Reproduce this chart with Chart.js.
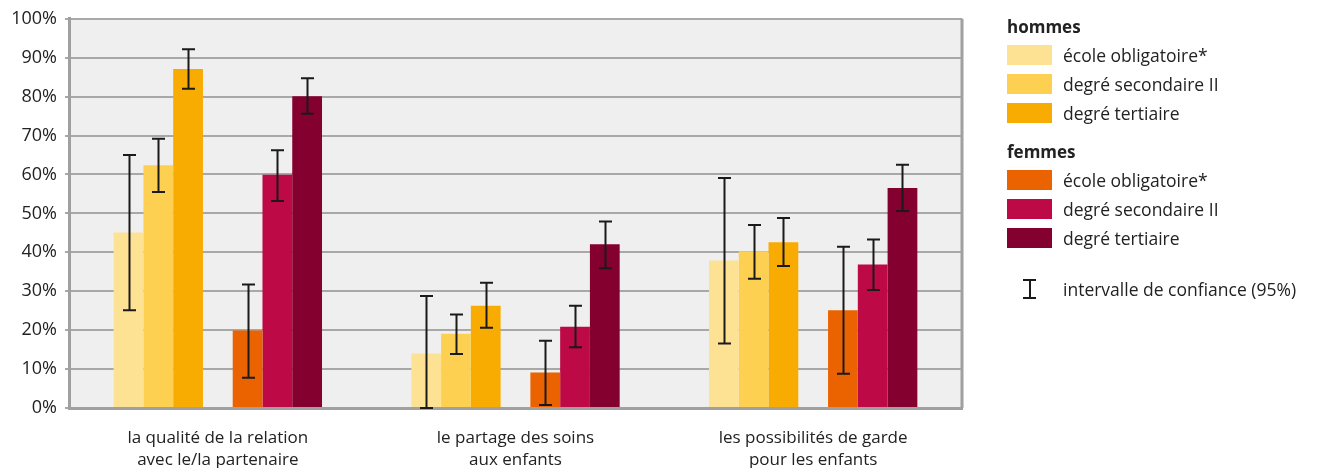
<!DOCTYPE html>
<html lang="fr">
<head>
<meta charset="utf-8">
<script src="https://cdn.jsdelivr.net/npm/chart.js@4/dist/chart.umd.min.js"></script>
<style>
  html, body { margin: 0; padding: 0; background: #fff; }
  body { font-family: 'Open Sans', sans-serif; color: #222; }
  #wrap { position: relative; width: 1318px; height: 468px; }
  #legend { position: absolute; left: 1007px; top: 14px; font-size: 17.5px; }
  #legend .head { font-weight: bold; height: 26px; line-height: 26px; font-size: 17px; }
  #legend .row { display: flex; align-items: center; height: 29px; }
  #legend .sw { width: 45px; height: 20px; margin-right: 11px; }
  #legend .gap { height: 10px; }
  #legend .ci { width: 45px; height: 20px; margin-right: 11px; position: relative; }
  #legend .ci span { position: absolute; background: #1a1a1a; }
</style>
</head>
<body>
<div id="wrap">
  <canvas id="chart" width="1318" height="468"></canvas>
  <div id="legend"></div>
</div>
<script>
const categories = [
  ['la qualité de la relation', 'avec le/la partenaire'],
  ['le partage des soins', 'aux enfants'],
  ['les possibilités de garde', 'pour les enfants']
]
const seriesLabels = ['école obligatoire*', 'degré secondaire II', 'degré tertiaire']

// hommes
const hommesOblig  = [45.1, 14.0, 37.9]
const hommesSecII  = [62.4, 19.1, 40.3]
const hommesTert   = [87.1, 26.3, 42.6]
// femmes
const femmesOblig  = [19.9, 9.1, 25.1]
const femmesSecII  = [59.9, 20.9, 36.9]
const femmesTert   = [80.1, 42.1, 56.5]

// intervalles de confiance 95 % [bas, haut]
const ciHommesOblig = [[25.1, 65.0], [0, 28.8], [16.6, 59.1]]
const ciHommesSecII = [[55.5, 69.2], [13.9, 24.0], [33.2, 47.0]]
const ciHommesTert  = [[82.0, 92.2], [20.6, 32.2], [36.5, 48.8]]
const ciFemmesOblig = [[7.8, 31.7], [0.8, 17.3], [8.8, 41.4]]
const ciFemmesSecII = [[53.2, 66.2], [15.6, 26.3], [30.3, 43.3]]
const ciFemmesTert  = [[75.6, 84.7], [35.9, 47.9], [50.6, 62.5]]

const yTicks = [0, 10, 20, 30, 40, 50, 60, 70, 80, 90, 100]

const COLORS_H = ['#fee294', '#fed052', '#f8ab00']
const COLORS_F = ['#eb6300', '#bd0945', '#84002e']

const FONT = 'Open Sans'

function bar(label, data, color, ci) {
  return { label, data, backgroundColor: color, borderWidth: 0, ci }
}

const datasets = [
  bar('hommes ' + seriesLabels[0], hommesOblig, COLORS_H[0], ciHommesOblig),
  bar('hommes ' + seriesLabels[1], hommesSecII, COLORS_H[1], ciHommesSecII),
  bar('hommes ' + seriesLabels[2], hommesTert,  COLORS_H[2], ciHommesTert),
  // slot vide entre hommes et femmes
  { label: '', data: [null, null, null], backgroundColor: 'transparent', spacer: true },
  bar('femmes ' + seriesLabels[0], femmesOblig, COLORS_F[0], ciFemmesOblig),
  bar('femmes ' + seriesLabels[1], femmesSecII, COLORS_F[1], ciFemmesSecII),
  bar('femmes ' + seriesLabels[2], femmesTert,  COLORS_F[2], ciFemmesTert)
]

// fond gris + cadre de la zone de tracé
const plotBg = {
  id: 'plotBg',
  beforeDraw(chart) {
    const { ctx, chartArea: a } = chart
    ctx.save()
    ctx.fillStyle = '#efefef'
    ctx.fillRect(a.left, a.top, a.right - a.left, a.bottom - a.top)
    ctx.restore()
  },
  afterDatasetsDraw(chart) {
    const { ctx, chartArea: a } = chart
    ctx.save()
    ctx.strokeStyle = '#a0a0a0'
    ctx.lineWidth = 3
    ctx.beginPath()
    ctx.moveTo(a.right, a.top)
    ctx.lineTo(a.right, a.bottom)
    ctx.stroke()
    ctx.restore()
  }
}

// barres d'erreur (intervalle de confiance)
const errorBars = {
  id: 'errorBars',
  afterDatasetsDraw(chart) {
    const { ctx } = chart
    const y = chart.scales.y
    ctx.save()
    ctx.strokeStyle = '#1a1a1a'
    ctx.lineWidth = 2
    chart.data.datasets.forEach((ds, i) => {
      if (!ds.ci) return
      chart.getDatasetMeta(i).data.forEach((el, j) => {
        const [lo, hi] = ds.ci[j]
        const x = Math.round(el.x) + 0.5
        const yLo = y.getPixelForValue(lo)
        const yHi = y.getPixelForValue(hi)
        ctx.beginPath()
        ctx.moveTo(x, yLo); ctx.lineTo(x, yHi)
        ctx.moveTo(x - 6.5, yHi); ctx.lineTo(x + 6.5, yHi)
        ctx.moveTo(x - 6.5, yLo); ctx.lineTo(x + 6.5, yLo)
        ctx.stroke()
      })
    })
    ctx.restore()
  }
}

new Chart(document.getElementById('chart'), {
  type: 'bar',
  data: { labels: categories, datasets },
  options: {
    responsive: false,
    animation: false,
    layout: { padding: { top: 16, right: 356, bottom: 0, left: 0 } },
    datasets: { bar: { categoryPercentage: 0.7, barPercentage: 1 } },
    plugins: { legend: { display: false }, tooltip: { enabled: false } },
    scales: {
      x: {
        grid: { display: false },
        border: { color: '#a0a0a0', width: 3 },
        ticks: { color: '#222', padding: 11, font: { family: FONT, size: 17, lineHeight: 1.3 }, maxRotation: 0 },
        afterFit(s) { s.height = 60 }
      },
      y: {
        min: 0,
        max: 100,
        afterBuildTicks(s) { s.ticks = yTicks.map(v => ({ value: v })) },
        grid: { color: '#a8a8a8', lineWidth: 2, tickLength: 4 },
        border: { color: '#a0a0a0', width: 3 },
        ticks: { color: '#222', padding: 8, font: { family: FONT, size: 18 }, callback: v => v + '%' },
        afterFit(s) { s.width = 69 }
      }
    }
  },
  plugins: [plotBg, errorBars]
})

// légende à droite
const legend = document.getElementById('legend')
function addHead(text) {
  const d = document.createElement('div')
  d.className = 'head'
  d.textContent = text
  legend.appendChild(d)
}
function addRow(color, text) {
  const r = document.createElement('div')
  r.className = 'row'
  const sw = document.createElement('div')
  sw.className = 'sw'
  sw.style.background = color
  const t = document.createElement('div')
  t.textContent = text
  r.appendChild(sw); r.appendChild(t)
  legend.appendChild(r)
}
addHead('hommes')
seriesLabels.forEach((l, i) => addRow(COLORS_H[i], l))
legend.appendChild(Object.assign(document.createElement('div'), { className: 'gap', style: 'height:12px' }))
addHead('femmes')
seriesLabels.forEach((l, i) => addRow(COLORS_F[i], l))
legend.appendChild(Object.assign(document.createElement('div'), { className: 'gap', style: 'height:22px' }))
const ciRow = document.createElement('div')
ciRow.className = 'row'
ciRow.innerHTML = '<div class="ci">' +
  '<span style="left:16px;top:0;width:13px;height:2px"></span>' +
  '<span style="left:22px;top:0;width:2px;height:20px"></span>' +
  '<span style="left:16px;top:18px;width:13px;height:2px"></span>' +
  '</div><div>intervalle de confiance (95%)</div>'
legend.appendChild(ciRow)
</script>
</body>
</html>
